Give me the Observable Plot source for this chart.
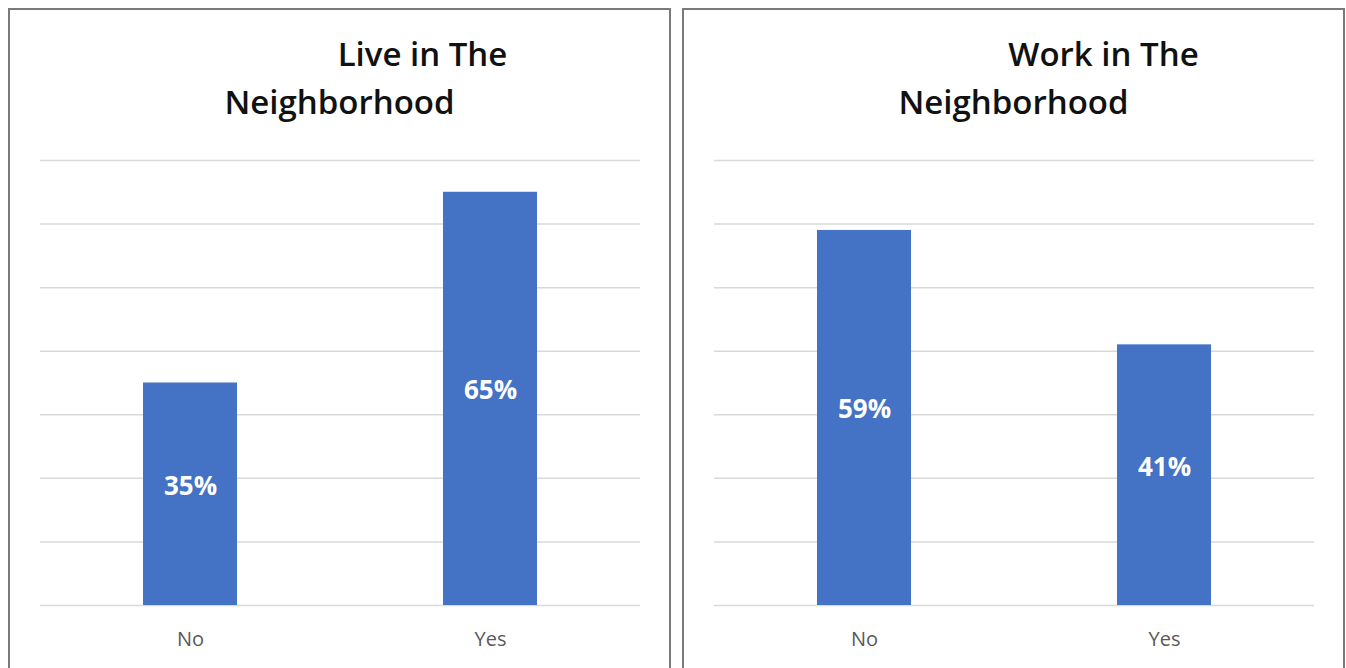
<!DOCTYPE html>
<html>
<head>
<meta charset="utf-8">
<script src="https://cdn.jsdelivr.net/npm/d3@7"></script>
<script src="https://cdn.jsdelivr.net/npm/@observablehq/plot@0.6"></script>
<style>
  html, body { margin: 0; padding: 0; background: #fff; width: 1346px; height: 668px; overflow: hidden; }
  .panel { position: absolute; top: 8px; width: 659px; height: 720px; border: 2px solid #7a7a7a; background: #fff; box-sizing: content-box; }
  .t { position: absolute; left: 0; width: 100%; text-align: center; font-family: "Open Sans", sans-serif; font-weight: 600; font-size: 33px; color: #111; white-space: pre; line-height: 1; }
  .plot { position: absolute; left: 0; top: 120px; }
</style>
</head>
<body>
<script>
// Data
const categories = ["No", "Yes"];
const liveValues = [35, 65];
const workValues = [59, 41];
const liveTitle = ["Live in The", "Neighborhood"];
const workTitle = ["Work in The", "Neighborhood"];
const yTicks = [0, 10, 20, 30, 40, 50, 60, 70];

function makePanel(left, title, values, line1Shift) {
  const panel = document.createElement("div");
  panel.className = "panel";
  panel.style.left = left + "px";
  document.body.appendChild(panel);

  const t1 = document.createElement("div");
  t1.className = "t";
  t1.textContent = title[0];
  t1.style.top = "27px";
  t1.style.paddingLeft = line1Shift + "px";
  t1.style.boxSizing = "border-box";
  panel.appendChild(t1);

  const t2 = document.createElement("div");
  t2.className = "t";
  t2.textContent = title[1];
  t2.style.top = "75px";
  panel.appendChild(t2);

  const data = categories.map((c, i) => ({cat: c, v: values[i]}));

  const chart = Plot.plot({
    width: 659,
    height: 530,
    marginTop: 30,
    marginBottom: 55,
    marginLeft: 30,
    marginRight: 29,
    style: {fontFamily: "Open Sans, sans-serif", background: "transparent"},
    x: {domain: categories, paddingInner: 0.687, paddingOuter: 0.343, label: null},
    y: {domain: [0, 70], axis: null},
    marks: [
      Plot.gridY(yTicks, {stroke: "#d9d9d9", strokeOpacity: 1, strokeWidth: 1.5}),
      Plot.barY(data, {x: "cat", y: "v", fill: "#4472c4"}),
      Plot.text(data, {x: "cat", y: d => d.v / 2, text: d => d.v + "%", fill: "#fff", fontWeight: 700, fontSize: 26, dy: -8}),
      Plot.axisX({tickSize: 0, tickPadding: 26, fontSize: 20, color: "#595959", label: null})
    ]
  });
  chart.classList.add("plot");
  panel.appendChild(chart);
}

makePanel(8, liveTitle, liveValues, 166);
makePanel(682, workTitle, workValues, 180);
</script>
</body>
</html>
